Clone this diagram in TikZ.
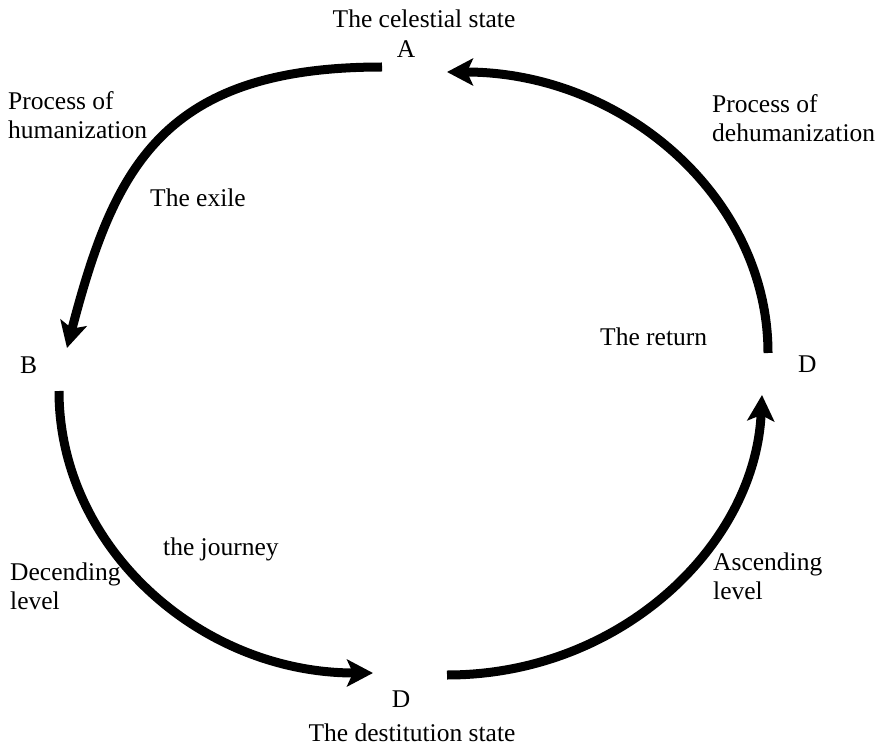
\documentclass[tikz,border=0pt]{standalone}
\usepackage{fontspec}
\setmainfont{Liberation Serif}
\usetikzlibrary{arrows.meta}
\begin{document}
\begin{tikzpicture}[x=1pt,y=-1pt,
  arc/.style={line width=9pt,-{Stealth[length=26pt,width=27pt,inset=6pt]}},
  lbl/.style={inner sep=0pt,font=\fontsize{25.5}{29}\selectfont}]
\useasboundingbox (0,0) rectangle (886,746);
% labels
\node[lbl,anchor=base] (cel) at (424,28) {The celestial state};
\node[lbl,anchor=base] (A) at (406,58) {A};
\node[lbl,anchor=base west] (hum) at (8,110) {\begin{tabular}[t]{@{}l@{}}Process of\\humanization\end{tabular}};
\node[lbl,anchor=base west] (exile) at (150,207) {The exile};
\node[lbl,anchor=base west] (dehum) at (712,113) {\begin{tabular}[t]{@{}l@{}}Process of\\dehumanization\end{tabular}};
\node[lbl,anchor=base west] (ret) at (600,345) {The return};
\node[lbl,anchor=base west] (B) at (20,373) {B};
\node[lbl,anchor=base west] (Dr) at (798,372) {D};
\node[lbl,anchor=base west] (jour) at (163,555) {the journey};
\node[lbl,anchor=base west] (desc) at (10,580) {\begin{tabular}[t]{@{}l@{}}Decending\\level\end{tabular}};
\node[lbl,anchor=base west] (asc) at (713,570) {\begin{tabular}[t]{@{}l@{}}Ascending\\level\end{tabular}};
\node[lbl,anchor=base] (Db) at (401,707) {D};
\node[lbl,anchor=base] (dest) at (412,741) {The destitution state};
% arc end points
\coordinate (a1s) at (382,67);
\coordinate (a1e) at (67,348);
\coordinate (a2s) at (59,391);
\coordinate (a2e) at (373,673);
\coordinate (a3s) at (447,675);
\coordinate (a3e) at (762,395);
\coordinate (a4s) at (768,353);
\coordinate (a4e) at (447,72);
% arcs
\draw[arc] (a1s) .. controls (162,67) and (114,168) .. (a1e);
\draw[arc] (a2s) .. controls (59,547) and (200,673) .. (a2e);
\draw[arc] (a3s) .. controls (621,675) and (755,545) .. (a3e);
\draw[arc] (a4s) .. controls (768,198) and (624,72) .. (a4e);
\end{tikzpicture}
\end{document}
